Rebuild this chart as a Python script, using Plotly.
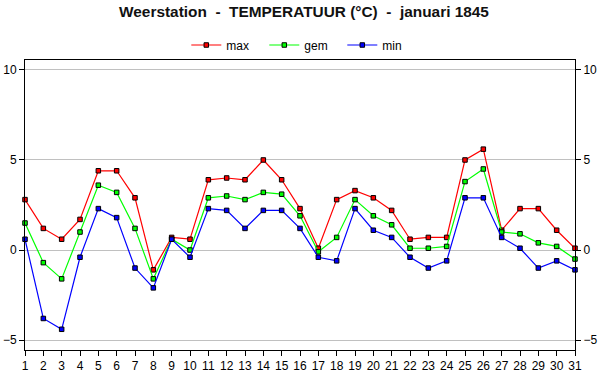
import plotly.graph_objects as go

days = list(range(1, 32))
t_max = [2.8, 1.2, 0.6, 1.7, 4.4, 4.4, 2.9, -1.1, 0.7, 0.6, 3.9, 4.0, 3.9, 5.0, 3.9, 2.3,
         0.1, 2.8, 3.3, 2.9, 2.2, 0.6, 0.7, 0.7, 5.0, 5.6, 1.1, 2.3, 2.3, 1.1, 0.1]
t_gem = [1.5, -0.7, -1.6, 1.0, 3.6, 3.2, 1.2, -1.6, 0.6, 0.0, 2.9, 3.0, 2.8, 3.2, 3.1, 1.9,
         -0.1, 0.7, 2.8, 1.9, 1.4, 0.1, 0.1, 0.2, 3.8, 4.5, 1.0, 0.9, 0.4, 0.2, -0.5]
t_min = [0.6, -3.8, -4.4, -0.4, 2.3, 1.8, -1.0, -2.1, 0.6, -0.4, 2.3, 2.2, 1.2, 2.2, 2.2, 1.2,
         -0.4, -0.6, 2.3, 1.1, 0.7, -0.4, -1.0, -0.6, 2.9, 2.9, 0.7, 0.1, -1.0, -0.6, -1.1]
y_ticks = [-5, 0, 5, 10]

series = [("max", t_max, "#ff0000"), ("gem", t_gem, "#00ff00"), ("min", t_min, "#0000ff")]

fig = go.Figure()
for name, vals, col in series:
    fig.add_trace(go.Scatter(
        x=days, y=vals, name=name, mode="lines+markers",
        line=dict(color=col, width=1.2),
        marker=dict(symbol="square", size=4.5, color=col, line=dict(color="black", width=1)),
        cliponaxis=False,
    ))
# invisible trace to activate the right-hand axis
fig.add_trace(go.Scatter(x=days, y=t_max, yaxis="y2", showlegend=False,
                         hoverinfo="skip", mode="lines", line=dict(width=0), opacity=0))

yr = [-5.55, 10.55]
font = dict(family="Liberation Sans, Arial, sans-serif", size=12, color="black")
fig.update_layout(
    width=600, height=390,
    margin=dict(l=25, r=25, t=60, b=40, autoexpand=False),
    paper_bgcolor="white", plot_bgcolor="white",
    font=font,
    title=dict(text="<b>Weerstation  -  TEMPERATUUR (°C)  -  januari 1845</b>",
               x=304 / 600, xanchor="center", y=1 - 12 / 390, yanchor="middle",
               font=dict(family="Liberation Sans, Arial, sans-serif", size=15.4, color="#111111")),
    legend=dict(orientation="h", x=0.506, xanchor="center", y=1 + 15 / 290, yanchor="middle",
                font=dict(size=12), itemwidth=30, entrywidth=33, entrywidthmode="pixels",
                bgcolor="rgba(0,0,0,0)"),
    showlegend=True,
    xaxis=dict(range=[1, 31], tickvals=days, ticktext=[str(d) for d in days],
               ticks="outside", ticklen=5, tickcolor="black", showgrid=False,
               showline=True, linecolor="black", linewidth=1, mirror=True,
               zeroline=False, automargin=False),
    yaxis=dict(range=yr, tickvals=y_ticks, ticks="outside", ticklen=5, tickcolor="black",
               showgrid=True, gridcolor="#c0c0c0", gridwidth=1,
               showline=True, linecolor="black", linewidth=1, mirror=True,
               zeroline=False, automargin=False),
    yaxis2=dict(range=yr, tickvals=y_ticks, ticks="outside", ticklen=5, tickcolor="black",
                overlaying="y", side="right", showgrid=False, showline=True,
                linecolor="black", linewidth=1, zeroline=False, automargin=False),
)
fig.write_html("out.html", config={"displayModeBar": False},
               post_script="document.body.style.margin='0';")
